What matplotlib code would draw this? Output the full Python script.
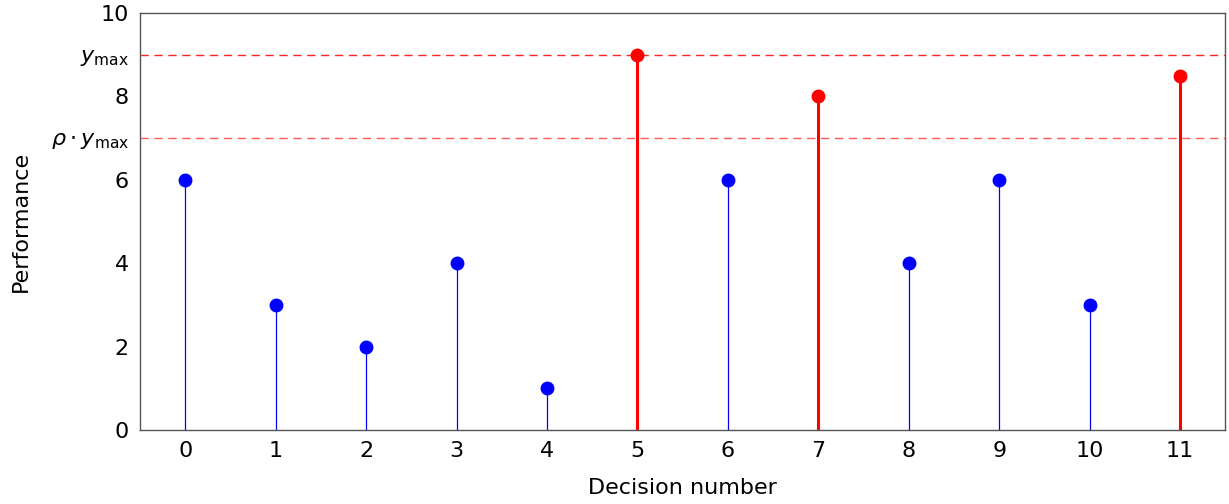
import matplotlib
matplotlib.use("Agg")
import matplotlib.pyplot as plt

decisions = [0, 1, 2, 3, 4, 5, 6, 7, 8, 9, 10, 11]
performance = [6, 3, 2, 4, 1, 9, 6, 8, 4, 6, 3, 8.5]
y_max = 9
rho_y_max = 7
threshold = 7  # points at or above rho*ymax are highlighted

plt.rcParams['font.family'] = ['DejaVu Sans']
plt.rcParams['mathtext.fontset'] = 'dejavusans'

fig = plt.figure(figsize=(12.29, 5.04), dpi=100)
ax = fig.add_axes([0.114, 0.147, 0.883, 0.827])

for x, y in zip(decisions, performance):
    if y >= threshold:
        ax.vlines(x, 0, y, color='red', linewidth=2.2, zorder=2)
        ax.plot(x, y, 'o', color='red', markersize=9, zorder=3)
    else:
        ax.vlines(x, 0, y, color='blue', linewidth=0.9, zorder=2)
        ax.plot(x, y, 'o', color='blue', markersize=9, zorder=3)

ax.axhline(y_max, color='red', alpha=0.85, linestyle=(0, (6, 4)), linewidth=1.0, zorder=1)
ax.axhline(rho_y_max, color='red', alpha=0.65, linestyle=(0, (6, 4)), linewidth=1.0, zorder=1)

ax.set_xlim(-0.5, 11.5)
ax.set_ylim(0, 10)
ax.set_xticks(decisions)
ax.set_yticks([0, 2, 4, 6, rho_y_max, 8, y_max, 10])
ax.set_yticklabels(['0', '2', '4', '6', r'$\rho\cdot y_{\mathrm{max}}$', '8',
                    r'$y_{\mathrm{max}}$', '10'])
ax.tick_params(length=0, labelsize=16, pad=8)
ax.set_xlabel('Decision number', fontsize=16, labelpad=12)
ax.set_ylabel('Performance', fontsize=16, labelpad=14)
for s in ax.spines.values():
    s.set_color('#555555')
    s.set_linewidth(1.0)

fig.savefig('out.png', dpi=100)
